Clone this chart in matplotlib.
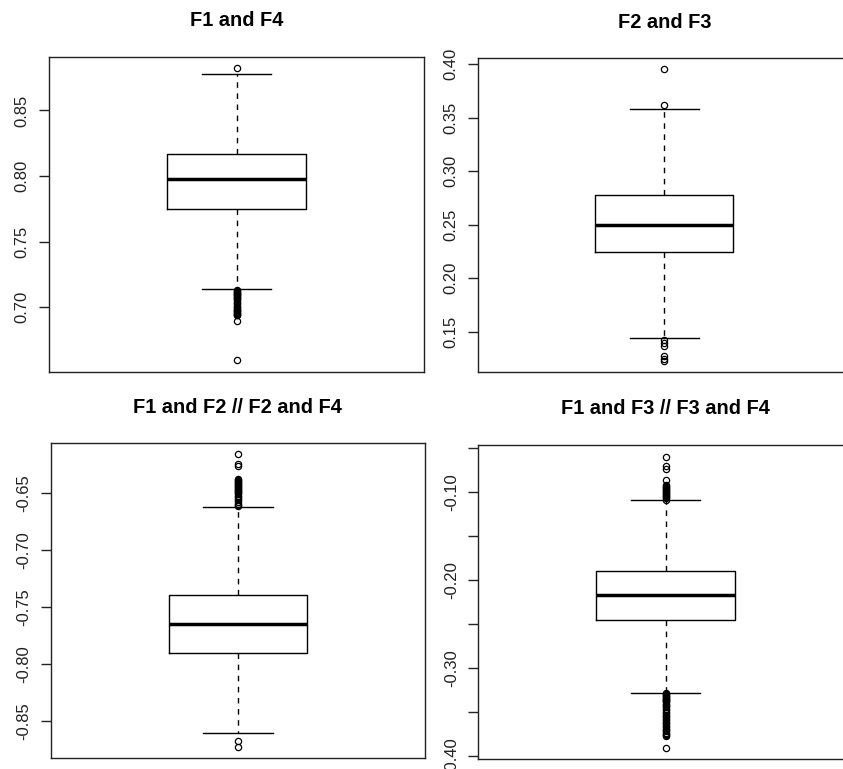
import numpy as np
import matplotlib
matplotlib.use("Agg")
import matplotlib.pyplot as plt

plt.rcParams['font.family'] = ['Liberation Sans', 'DejaVu Sans']

titles = ['F1 and F4', 'F2 and F3', 'F1 and F2 // F2 and F4', 'F1 and F3 // F3 and F4']

# box statistics
q1 = [0.775, 0.2248, -0.790, -0.2458]
med = [0.798, 0.250, -0.7652, -0.217]
q3 = [0.8168, 0.278, -0.7392, -0.1906]
whislo = [0.7136, 0.1441, -0.8608, -0.3284]
whishi = [0.8777, 0.3581, -0.662, -0.1098]

fliers_f1f4 = [0.8825, 0.7128, 0.7122, 0.7116, 0.7110, 0.7104, 0.7098, 0.7092, 0.7085,
               0.7078, 0.7070, 0.7062, 0.7052, 0.7042, 0.7032, 0.7022, 0.7010, 0.6998,
               0.6990, 0.6982, 0.6975, 0.6968, 0.6961, 0.6955, 0.6949, 0.6943, 0.6937,
               0.6897, 0.6598]
fliers_f2f3 = [0.3953, 0.3619, 0.1420, 0.1395, 0.1370, 0.1270, 0.1245, 0.1222]
fliers_f1f2 = [-0.6157, -0.6245, -0.6260, -0.6377, -0.6385, -0.6393, -0.6401, -0.6409,
               -0.6417, -0.6425, -0.6433, -0.6441, -0.6449, -0.6457, -0.6466, -0.6476,
               -0.6486, -0.6496, -0.6508, -0.6520, -0.6534, -0.6548, -0.6562, -0.6576,
               -0.6590, -0.6603, -0.6615, -0.8676, -0.8729]
fliers_f1f3 = [-0.0600, -0.0710, -0.0740, -0.0871, -0.0924, -0.0934, -0.0944, -0.0954,
               -0.0964, -0.0975, -0.0986, -0.0998, -0.1010, -0.1022, -0.1035, -0.1048,
               -0.1062, -0.1076, -0.1090,
               -0.3292, -0.3302, -0.3312, -0.3322, -0.3332, -0.3342, -0.3352, -0.3362,
               -0.3372, -0.3383, -0.3395, -0.3408, -0.3422, -0.3437, -0.3452, -0.3468,
               -0.3484, -0.3500, -0.3516, -0.3532, -0.3548, -0.3564, -0.3580, -0.3596,
               -0.3612, -0.3628, -0.3644, -0.3660, -0.3676, -0.3692, -0.3708, -0.3724,
               -0.3740, -0.3756, -0.3770, -0.3780, -0.3916]
fliers = [fliers_f1f4, fliers_f2f3, fliers_f1f2, fliers_f1f3]

yticks = [[0.70, 0.75, 0.80, 0.85],
          [0.15, 0.20, 0.25, 0.30, 0.35, 0.40],
          [-0.85, -0.80, -0.75, -0.70, -0.65],
          [-0.40, -0.35, -0.30, -0.25, -0.20, -0.15, -0.10, -0.05]]
ytick_labels = [['0.70', '0.75', '0.80', '0.85'],
                ['0.15', '0.20', '0.25', '0.30', '0.35', '0.40'],
                ['-0.85', '-0.80', '-0.75', '-0.70', '-0.65'],
                ['-0.40', '', '-0.30', '', '-0.20', '', '-0.10', '']]
ylims = [(0.6506, 0.8907), (0.1123, 0.4056), (-0.8828, -0.606), (-0.4041, -0.0469)]

# axes rectangles in figure fractions (left, bottom, width, height)
rects = [(0.0581, 0.5163, 0.4449, 0.4096),
         (0.5667, 0.5163, 0.4428, 0.4079),
         (0.0601, 0.0139, 0.4441, 0.4096),
         (0.5674, 0.0126, 0.4445, 0.4087)]

fig = plt.figure(figsize=(8.43, 7.69), dpi=100)
frame = '#222222'

for i in range(4):
    ax = fig.add_axes(rects[i])
    stats = [dict(q1=q1[i], med=med[i], q3=q3[i], whislo=whislo[i],
                  whishi=whishi[i], fliers=fliers[i])]
    ax.bxp(stats, positions=[1], widths=0.4, capwidths=0.2,
           boxprops=dict(color='black', lw=1.0),
           medianprops=dict(color='black', lw=2.5, solid_capstyle='butt'),
           whiskerprops=dict(color='black', lw=1.0, linestyle=(0, (4, 4))),
           capprops=dict(color='black', lw=1.0),
           flierprops=dict(marker='o', markerfacecolor='none', markeredgecolor='black',
                           markersize=4.5, markeredgewidth=0.9, linestyle='none'))
    ax.set_xlim(0.46, 1.54)
    ax.set_ylim(*ylims[i])
    ax.set_xticks([])
    ax.set_yticks(yticks[i])
    ax.set_yticklabels(ytick_labels[i])
    ax.tick_params(axis='y', labelsize=12, length=7, width=1.0, pad=7,
                   color=frame, labelcolor='#222222', labelrotation=90)
    for lab in ax.get_yticklabels():
        lab.set_va('center')
    for sp in ax.spines.values():
        sp.set_color(frame)
        sp.set_linewidth(1.0)
    ax.set_title(titles[i], fontsize=14.4, fontweight='bold', pad=22)

fig.savefig('out.png', dpi=100)
